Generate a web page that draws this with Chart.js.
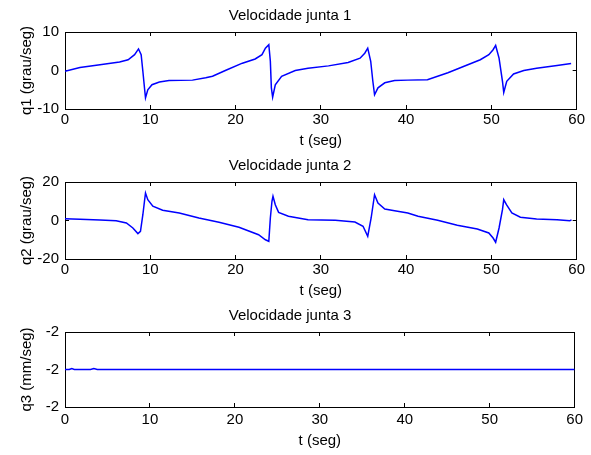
<!DOCTYPE html>
<html>
<head>
<meta charset="utf-8">
<script src="https://cdn.jsdelivr.net/npm/chart.js@4.4.1/dist/chart.umd.min.js"></script>
<style>
  html, body { margin: 0; padding: 0; background: #fff; }
  canvas { display: block; }
</style>
</head>
<body>
<canvas id="c1" width="591" height="150"></canvas>
<canvas id="c2" width="591" height="150"></canvas>
<canvas id="c3" width="591" height="155"></canvas>
<script>
// tempo (seg) e velocidades
const xTicks = [0, 10, 20, 30, 40, 50, 60];

const t1 = [0, 1.75, 4.1, 6.4, 7.4, 8.16, 8.62, 8.93, 9.13, 9.36, 9.44, 9.71, 10.2, 11.07, 12.2,
  14.95, 16.5, 17.3, 18.8, 20.8, 22.3, 23.1, 23.5, 23.9, 24.08, 24.2, 24.35, 24.66, 25.4, 27.0,
  28.5, 30.9, 33.2, 34.6, 35.15, 35.5, 35.85, 36.1, 36.3, 36.7, 37.5, 38.65, 40.2, 42.5, 44.9,
  46.8, 48.7, 49.7, 50.2, 50.5, 50.9, 51.3, 51.45, 51.8, 52.6, 53.8, 55.3, 57.7, 59.35];
const q1 = [-0.2, 0.8, 1.5, 2.2, 2.8, 4.1, 5.6, 4.1, -0.2, -5.4, -7.1, -5.0, -3.7, -3.0, -2.6,
  -2.5, -1.9, -1.5, 0, 1.9, 3.0, 4.1, 5.8, 6.7, 2.4, -4.5, -6.9, -3.7, -1.5, 0,
  0.6, 1.2, 2.1, 3.2, 4.5, 5.8, 2.4, -2.8, -6.3, -4.5, -3.2, -2.6, -2.5, -2.4, -0.6,
  1.1, 2.8, 4.1, 5.4, 6.5, 3.2, -2.8, -5.7, -2.8, -0.9, 0, 0.6, 1.3, 1.8];
const q1Ticks = [-10, 0, 10];

const t2 = [0, 1.75, 4.1, 6.0, 7.2, 7.96, 8.55, 8.85, 9.13, 9.32, 9.44, 9.71, 10.3, 11.45, 13.4,
  15.7, 18.06, 20.4, 22.7, 23.5, 23.9, 24.08, 24.27, 24.39, 24.66, 25.05, 26.2, 28.5, 31.7, 34.0,
  34.95, 35.5, 35.9, 36.3, 36.7, 37.5, 38.65, 40.2, 41.4, 43.7, 46.0, 48.35, 49.7, 50.2, 50.5,
  50.9, 51.3, 51.45, 51.77, 52.4, 53.4, 55.3, 57.7, 59.2, 59.4];
const q2 = [0.9, 0.6, 0.3, -0.1, -1.3, -3.9, -6.8, -5.6, 3.0, 10, 14.3, 10.8, 7.4, 5.3, 3.9,
  1.3, -0.9, -3.5, -7.4, -10, -10.8, 1.3, 10, 12.6, 8.2, 4.2, 2.2, 0.4, 0.1, -0.8,
  -3.0, -8.2, 1.3, 13.4, 9.1, 6.0, 5.1, 3.9, 2.2, 0.1, -2.5, -4.4, -6.5, -9.1, -11.3,
  -3.9, 5.6, 10.8, 8.2, 3.9, 1.7, 0.8, 0.4, -0.1, 0.3];
const q2Ticks = [-20, 0, 20];

const t3 = [0, 0.5, 0.8, 1.1, 3.0, 3.4, 3.8, 60];
const q3 = [-2, -2, -1.9999975, -2, -2, -1.9999975, -2, -2];
const q3Ticks = [-2.0001, -2, -1.9999];
const q3TickLabels = ['-2', '-2', '-2'];

const font = { family: '"Liberation Sans", Arial, sans-serif', size: 15, weight: 'normal' };
const inward = -4;

function subplot(id, cfg) {
  const edge = {
    grid: { drawOnChartArea: false, tickLength: inward, color: '#000' },
    border: { color: '#000' },
  };
  return new Chart(document.getElementById(id), {
    type: 'line',
    data: {
      datasets: [{
        data: cfg.t.map((t, i) => ({ x: t, y: cfg.q[i] })),
        borderColor: '#0000ff',
        borderWidth: 1.5,
        pointRadius: 0,
        tension: 0,
      }],
    },
    options: {
      responsive: false,
      animation: false,
      devicePixelRatio: 1,
      layout: { padding: { left: 0, right: 11, top: 0, bottom: 0 } },
      plugins: {
        legend: { display: false },
        tooltip: { enabled: false },
        title: { display: true, text: cfg.title, color: '#000', font, padding: { top: 7, bottom: 7 } },
      },
      scales: {
        x: {
          type: 'linear', position: 'bottom', min: 0, max: 60,
          afterBuildTicks: (s) => { s.ticks = xTicks.map((v) => ({ value: v })); },
          afterFit: (s) => { s.height = cfg.xh; },
          ticks: { color: '#000', font, padding: cfg.xpad, maxRotation: 0 },
          ...edge,
          title: { display: true, text: 't (seg)', color: '#000', font, padding: { top: 0, bottom: cfg.xtpad } },
        },
        x2: {
          type: 'linear', position: 'top', min: 0, max: 60,
          afterBuildTicks: (s) => { s.ticks = xTicks.map((v) => ({ value: v })); },
          afterFit: (s) => { s.height = 0; },
          ticks: { display: false },
          ...edge,
        },
        y: {
          type: 'linear', position: 'left', min: cfg.yt[0], max: cfg.yt[cfg.yt.length - 1],
          afterBuildTicks: (s) => { s.ticks = cfg.yt.map((v) => ({ value: v })); },
          afterFit: (s) => { s.width = 65; },
          ticks: {
            color: '#000', font, padding: 10,
            callback: (v, i) => (cfg.ylabels ? cfg.ylabels[i] : String(v)),
          },
          ...edge,
          title: { display: true, text: cfg.ytitle, color: '#000', font, padding: { top: 18, bottom: 0 } },
        },
        y2: {
          type: 'linear', position: 'right', min: cfg.yt[0], max: cfg.yt[cfg.yt.length - 1],
          afterBuildTicks: (s) => { s.ticks = cfg.yt.map((v) => ({ value: v })); },
          afterFit: (s) => { s.width = 0; },
          ticks: { display: false },
          ...edge,
        },
      },
    },
  });
}

subplot('c1', { t: t1, q: q1, yt: q1Ticks, title: 'Velocidade junta 1', ytitle: 'q1 (grau/seg)', xh: 41, xpad: 6, xtpad: 0 });
subplot('c2', { t: t2, q: q2, yt: q2Ticks, title: 'Velocidade junta 2', ytitle: 'q2 (grau/seg)', xh: 41, xpad: 6, xtpad: 0 });
subplot('c3', { t: t3, q: q3, yt: q3Ticks, ylabels: q3TickLabels, title: 'Velocidade junta 3', ytitle: 'q3 (mm/seg)', xh: 48, xpad: 8, xtpad: 5 });
</script>
</body>
</html>
